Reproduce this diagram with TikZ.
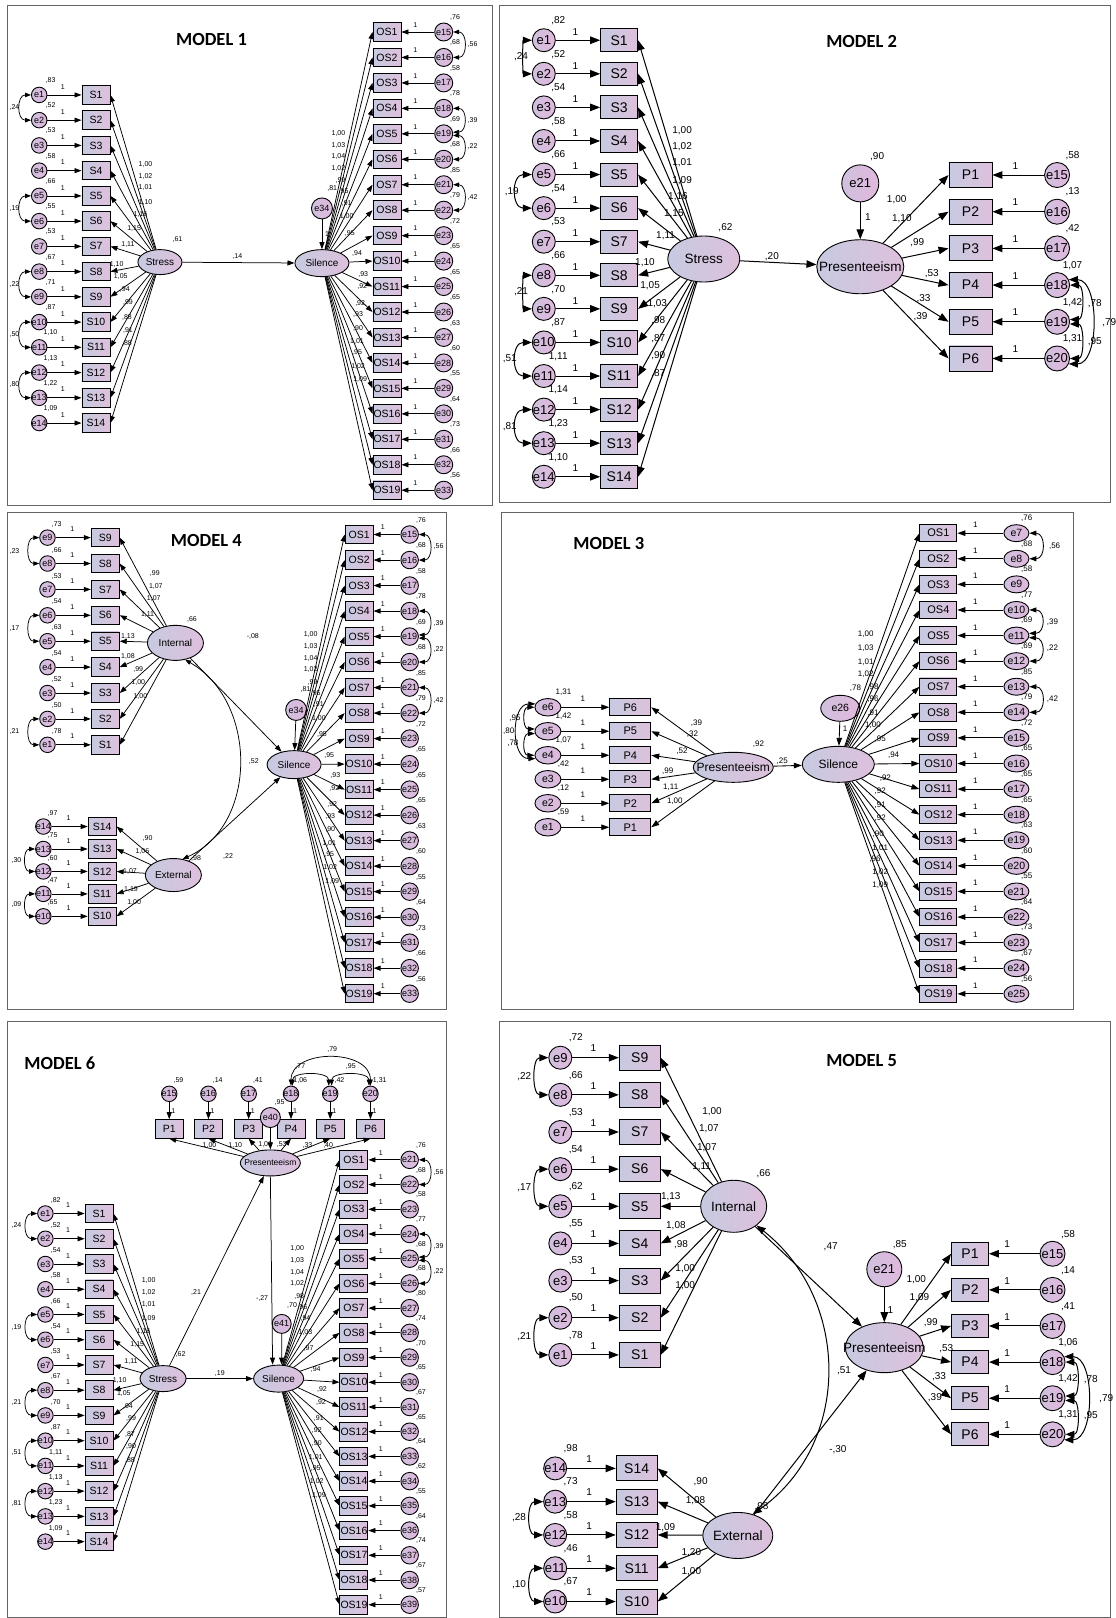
\documentclass[tikz,border=0pt]{standalone}
\usepackage{fontspec}
\setmainfont{Liberation Sans}
\newfontfamily\titlefont{Carlito}
\usetikzlibrary{arrows.meta,shapes.geometric}
\definecolor{fillL}{RGB}{198,202,224}
\definecolor{fillR}{RGB}{222,192,220}
\definecolor{errL}{RGB}{208,192,222}
\definecolor{errR}{RGB}{224,184,220}
\definecolor{frameC}{RGB}{100,100,100}
\newcommand\fs[1]{\fontsize{#1}{#1}\selectfont}
\newcommand\Off[4]{\def\odx{#1}\def\ody{#2}\def\vdx{#3}\def\vdy{#4}}
\newcommand\Col[6]{%
  \foreach \nm/\en/\vv [count=\k from 0] in {#6}{%
    \pgfmathsetmacro\yy{#4+\k*(#5)}%
    \node[cbox] (#1\nm) at (#2,\yy) {\nm};
    \node[cerr] (#1\en) at (#3,\yy) {};
    \node[cerrtxt] at (#1\en) {\en};
    \draw[carr] (#1\en) -- (#1\nm);
    \node[clab] at ({(#2+#3)/2+\odx},{\yy-\ody}) {1};
    \node[clab] at ({#3+\vdx},{\yy-\vdy}) {\vv};
  }}
\newcommand\Lat[5]{\node[base,ellipse,minimum width=#3,minimum height=#4] (#1) at (#2) {};\node[clat] at (#1) {#5};}
\newcommand\CL[3]{\draw[cdarr] (#1) .. controls +(-#3,0) and +(-#3,0) .. (#2);}
\newcommand\CR[3]{\draw[cdarr] (#1) .. controls +(#3,0) and +(#3,0) .. (#2);}
\newcommand\CT[3]{\draw[cdarr] (#1) .. controls +(0,-#3) and +(0,-#3) .. (#2);}
\newcommand\Labs[3]{\foreach \x/\y/\t in {#3}{\node[clab] at ({\x+#1},{\y+#2}) {\t};}}
\tikzset{
 base/.style={draw=black,line width=0.9pt,inner sep=0pt,left color=fillL,right color=fillR},
 ebase/.style={draw=black,line width=0.9pt,inner sep=0pt,left color=errL,right color=errR},
 frame/.style={draw=frameC,line width=1.2pt},
 ttl/.style={font={\titlefont\bfseries\fs{18.5}}},
 smallset/.style={
   cbox/.style={base,rectangle,minimum width=28pt,minimum height=18.5pt,font=\fs{10.5}},
   cerr/.style={ebase,circle,minimum size=15.5pt},
   cerrtxt/.style={font=\fs{9},inner sep=0pt},
   clab/.style={font=\fs{7},inner sep=0pt},
   clat/.style={font=\fs{10},inner sep=0pt},
   carr/.style={line width=0.75pt,-{Triangle[length=7pt,width=5pt]}},
   cdarr/.style={line width=0.75pt,{Triangle[length=6pt,width=4.5pt]}-{Triangle[length=6pt,width=4.5pt]}}},
 largeset/.style={
   cbox/.style={base,rectangle,minimum width=37pt,minimum height=23pt,font=\fs{14}},
   cerr/.style={ebase,circle,minimum size=23pt},
   cerrtxt/.style={font=\fs{13},inner sep=0pt},
   clab/.style={font=\fs{10},inner sep=0pt},
   clat/.style={font=\fs{13.5},inner sep=0pt},
   carr/.style={line width=1pt,-{Triangle[length=10pt,width=7.5pt]}},
   cdarr/.style={line width=1pt,{Triangle[length=9pt,width=7pt]}-{Triangle[length=9pt,width=7pt]}}},
 medset/.style={
   cbox/.style={base,rectangle,minimum width=41pt,minimum height=17pt,font=\fs{11}},
   cerr/.style={ebase,ellipse,minimum width=26pt,minimum height=17.5pt},
   cerrtxt/.style={font=\fs{10.5},inner sep=0pt},
   clab/.style={font=\fs{8},inner sep=0pt},
   clat/.style={font=\fs{12},inner sep=0pt},
   carr/.style={line width=0.85pt,-{Triangle[length=8pt,width=5.5pt]}},
   cdarr/.style={line width=0.85pt,{Triangle[length=7pt,width=5pt]}-{Triangle[length=7pt,width=5pt]}}},
}
\begin{document}
\begin{tikzpicture}[x=1.0315pt,y=-1.0315pt]
\useasboundingbox (0,0) rectangle (1081,1568);
\fill[white] (0,0) rectangle (1081,1568);
\draw[frame] (7,5) rectangle (477,490);
\draw[frame] (484,5) rectangle (1076,487);
\draw[frame] (7,497) rectangle (433,978);
\draw[frame] (486,497) rectangle (1040,978);
\draw[frame] (7,990) rectangle (433,1567.4);
\draw[frame] (484,990) rectangle (1076,1567.4);

% ================= MODEL 1 =================
\tikzset{smallset}
\node[ttl] (t1) at (205,38) {MODEL 1};
\Off{-4.5}{8}{11}{14}
\Col{m1}{93}{38}{92}{24.46}{S1/e1/{,83},S2/e2/{,52},S3/e3/{,53},S4/e4/{,58},S5/e5/{,66},S6/e6/{,55},S7/e7/{,53},S8/e8/{,67},S9/e9/{,71},S10/e10/{,87},S11/e11/{1,10},S12/e12/{1,13},S13/e13/{1,22},S14/e14/{1,09}}
\CL{m1e1.west}{m1e2.west}{14}\CL{m1e5.west}{m1e6.west}{14}\CL{m1e8.west}{m1e9.west}{14}\CL{m1e10.west}{m1e11.west}{14}\CL{m1e12.west}{m1e13.west}{14}
\Labs{0}{0}{14/104/{,24},14/202/{,19},14/276/{,22},14/324/{,50},14/373/{,80}}
\Lat{m1Stress}{155,254}{44pt}{25pt}{Stress}
\foreach \i in {1,...,14} \draw[carr] (m1Stress) -- (m1S\i.east);
\Labs{0}{0}{141/159/{1,00},141/171/{1,02},141/182/{1,01},141/196/{1,10},136/208/{1,16},130/221/{1,15},124/237/{1,11},113/256/{1,10},117/268/{1,05},121/281/{,94},124/293/{,99},123/308/{,88},124/320/{,91},123/333/{,88}}
\Lat{m1Sil}{312,255}{54pt}{27pt}{Silence}
\draw[carr] (m1Stress) -- (m1Sil);
\node[cerr,minimum size=21pt] (m1e34) at (312,202) {};\node[cerrtxt] at (m1e34) {e34};
\draw[carr] (m1e34) -- (m1Sil);
\Labs{0}{0}{172/232/{,61},230/249/{,14},322/183/{,81},317/227/{1}}
\tikzset{cerr/.style={ebase,circle,minimum size=18pt}}
\Off{0}{7}{11}{14}
\Col{m1}{375}{430}{31}{24.67}{OS1/e15/{,76},OS2/e16/{,68},OS3/e17/{,58},OS4/e18/{,78},OS5/e19/{,69},OS6/e20/{,68},OS7/e21/{,85},OS8/e22/{,79},OS9/e23/{,72},OS10/e24/{,65},OS11/e25/{,65},OS12/e26/{,65},OS13/e27/{,63},OS14/e28/{,60},OS15/e29/{,55},OS16/e30/{,64},OS17/e31/{,73},OS18/e32/{,66},OS19/e33/{,56}}
\foreach \i in {1,...,19} \draw[carr] (m1Sil) -- (m1OS\i.west);
\CR{m1e15.east}{m1e16.east}{14}\CR{m1e18.east}{m1e19.10}{14}\CR{m1e19.-10}{m1e20.east}{14}\CR{m1e21.east}{m1e22.east}{14}
\Labs{0}{0}{458/43/{,56},458/117/{,39},458/142/{,22},458/191/{,42}}
\Labs{0}{0}{328/129/{1,00},328/141/{1,03},328/152/{1,04},328/163/{1,02},330/175/{,99},333/186/{,95},336/197/{,91},336/210/{1,00},339/226/{,95},346/246/{,94},352/266/{,93},351/278/{,92},349/294/{,92},347/305/{,93},347/318/{,90},346/331/{1,01},346/342/{,95},347/355/{1,02},349/368/{1,09}}

% ================= MODEL 2 =================
\tikzset{largeset}
\node[ttl] (t2) at (835,40) {MODEL 2};
\Off{-6}{8}{14}{19}
\Col{m2}{600}{527}{39}{32.54}{S1/e1/{,82},S2/e2/{,52},S3/e3/{,54},S4/e4/{,58},S5/e5/{,66},S6/e6/{,54},S7/e7/{,53},S8/e8/{,66},S9/e9/{,70},S10/e10/{,87},S11/e11/{1,11},S12/e12/{1,14},S13/e13/{1,23},S14/e14/{1,10}}
\CL{m2e1.west}{m2e2.west}{9}\CL{m2e5.west}{m2e6.west}{20}\CL{m2e8.west}{m2e9.west}{9}\CL{m2e10.west}{m2e11.west}{20}\CL{m2e12.west}{m2e13.west}{20}
\Labs{0}{0}{505/55/{,24},496/186/{,19},505/283/{,21},494/348/{,51},494/413/{,81}}
\Lat{m2Stress}{682,251}{72pt}{46pt}{Stress}
\foreach \i in {1,...,14} \draw[carr] (m2Stress) -- (m2S\i.east);
\Labs{0}{0}{661/127/{1,00},661/142/{1,02},661/158/{1,01},661/175/{1,09},657/191/{1,16},653/207/{1,15},645/228/{1,11},625/255/{1,10},630/277/{1,05},637/294/{1,03},638/311/{,98},638/328/{,87},638/345/{,90},638/362/{,87}}
\Lat{m2Pres}{833.7,258.5}{87pt}{54pt}{Presenteeism}
\node[cerr,minimum size=37pt] (m2e21) at (833.7,177.7) {};\node[cerrtxt] at (m2e21) {e21};
\draw[carr] (m2e21) -- (m2Pres);
\draw[carr] (m2Stress) -- (m2Pres);
\Labs{0}{0}{703/221/{,62},748/249/{,20},850/152/{,90},841/210/{1}}
\tikzset{cbox/.style={base,rectangle,minimum width=43pt,minimum height=25pt,font=\fs{14}},cerr/.style={ebase,circle,minimum size=25pt}}
\Off{1.5}{9}{15}{19}
\Col{m2}{940.5}{1024.4}{169.6}{35.56}{P1/e15/{,58},P2/e16/{,13},P3/e17/{,42},P4/e18/{1,07},P5/e19/{1,42},P6/e20/{1,31}}
\foreach \i in {1,...,6} \draw[carr] (m2Pres) -- (m2P\i.west);
\CR{m2e18.east}{m2e19.10}{14}\CR{m2e19.-10}{m2e20.east}{14}\CR{m2e18.25}{m2e20.-25}{30}
\Labs{0}{0}{1061/294/{,78},1075/313/{,79},1061/331/{,95}}
\Labs{0}{0}{869/193/{1,00},874/212/{1,10},889/235/{,99},903/265/{,53},895/289/{,33},892/307/{,39}}

% ================= MODEL 4 =================
\tikzset{smallset}
\node[ttl] (t4) at (200,524) {MODEL 4};
\Off{-4}{8}{9}{13}
\Col{m4}{102}{46}{521}{25.1}{S9/e9/{,73},S8/e8/{,66},S7/e7/{,53},S6/e6/{,54},S5/e5/{,63},S4/e4/{,54},S3/e3/{,52},S2/e2/{,50},S1/e1/{,78}}
\CL{m4e9.west}{m4e8.west}{13}\CL{m4e6.west}{m4e5.west}{13}\CL{m4e2.west}{m4e1.west}{13}
\Col{m4}{99}{42}{801}{21.75}{S14/e14/{,97},S13/e13/{,75},S12/e12/{,60},S11/e11/{,47},S10/e10/{,65}}
\CL{m4e13.west}{m4e12.west}{12}\CL{m4e11.west}{m4e10.west}{12}
\Labs{0}{0}{14/534/{,23},14/609/{,17},14/709/{,21},16/834/{,30},16/877/{,09}}
\Lat{m4Int}{170,623}{56pt}{35pt}{Internal}
\Lat{m4Ext}{168,848}{56pt}{33pt}{External}
\foreach \i in {1,...,9} \draw[carr] (m4Int) -- (m4S\i.east);
\foreach \i in {10,...,14} \draw[carr] (m4Ext) -- (m4S\i.east);
\Labs{0}{0}{150/556/{,99},151/568/{1,07},149/580/{1,07},143/596/{1,11},124/617/{1,13},124/636/{1,08},134/649/{,99},134/661/{1,00},136/675/{1,00}}
\Labs{0}{0}{143/813/{,90},138/825/{1,06},126/845/{1,07},127/862/{1,19},130/875/{1,00}}
\Lat{m4Sil}{285,741}{54pt}{28pt}{Silence}
\node[cerr,minimum size=21pt] (m4e34) at (287,688) {};\node[cerrtxt] at (m4e34) {e34};
\draw[carr] (m4e34) -- (m4Sil);
\draw[carr] (m4Int) -- (m4Sil);
\draw[carr] (m4Ext) -- (m4Sil);
\draw[cdarr] (m4Int.-60) .. controls (250,680) and (250,800) .. (m4Ext.60);
\Labs{0}{0}{186/600/{,66},190/832/{,98},246/738/{,52},245/617/{-,08},221/830/{,22},296/668/{,81}}
\tikzset{cerr/.style={ebase,circle,minimum size=17.5pt}}
\Off{-1.5}{7}{11}{14}
\Col{m4}{348}{397}{518}{24.72}{OS1/e15/{,76},OS2/e16/{,68},OS3/e17/{,58},OS4/e18/{,78},OS5/e19/{,69},OS6/e20/{,68},OS7/e21/{,85},OS8/e22/{,79},OS9/e23/{,72},OS10/e24/{,65},OS11/e25/{,65},OS12/e26/{,65},OS13/e27/{,63},OS14/e28/{,60},OS15/e29/{,55},OS16/e30/{,64},OS17/e31/{,73},OS18/e32/{,66},OS19/e33/{,56}}
\foreach \i in {1,...,19} \draw[carr] (m4Sil) -- (m4OS\i.west);
\CR{m4e15.east}{m4e16.east}{14}\CR{m4e18.east}{m4e19.10}{14}\CR{m4e19.-10}{m4e20.east}{14}\CR{m4e21.east}{m4e22.east}{14}
\Labs{0}{0}{425/530/{,56},425/604/{,39},425/629/{,22},425/679/{,42}}
\Labs{-27}{486}{328/129/{1,00},328/141/{1,03},328/152/{1,04},328/163/{1,02},330/175/{,99},333/186/{,95},336/197/{,91},336/210/{1,00},339/226/{,95},346/246/{,95},352/266/{,93},351/278/{,92},349/294/{,92},347/305/{,93},347/318/{,90},346/331/{1,01},346/342/{,95},347/355/{1,02},349/368/{1,09}}

% ================= MODEL 3 =================
\tikzset{medset}
\node[ttl] (t3) at (590,527) {MODEL 3};
\Off{-6}{8}{15}{14.5}
\Col{m3}{610.8}{531}{685.4}{23.26}{P6/e6/{1,31},P5/e5/{1,42},P4/e4/{1,07},P3/e3/{,42},P2/e2/{,12},P1/e1/{,59}}
\CL{m3e6.west}{m3e5.170}{12}\CL{m3e5.190}{m3e4.west}{12}\CL{m3e6.165}{m3e4.195}{24}
\Labs{0}{0}{499/696/{,95},493/709/{,80},497/720/{,78}}
\Lat{m3Pres}{710.6,743.6}{80pt}{30pt}{Presenteeism}
\foreach \i in {1,...,6} \draw[carr] (m3Pres) -- (m3P\i.east);
\Labs{0}{0}{675/701/{,39},671/712/{,32},661/728/{,52},647/747/{,99},650/763/{1,11},654/776/{1,00}}
\Lat{m3Sil}{812.4,740.7}{72pt}{36pt}{Silence}
\draw[carr] (m3Pres) -- (m3Sil);
\node[cerr,minimum width=39pt,minimum height=26pt] (m3e26) at (814.3,686.4) {};\node[cerrtxt] at (m3e26) {e26};
\draw[carr] (m3e26) -- (m3Sil);
\Labs{0}{0}{735/721/{,92},758/738/{,25},829/667/{,78},819/706/{1}}
\tikzset{cbox/.style={base,rectangle,minimum width=37pt,minimum height=17.5pt,font=\fs{11}},cerr/.style={ebase,ellipse,minimum width=25pt,minimum height=17pt}}
\Off{-2}{8}{10}{14.5}
\Col{m3}{909.4}{985}{516.7}{24.8}{OS1/e7/{,76},OS2/e8/{,68},OS3/e9/{,58},OS4/e10/{,77},OS5/e11/{,69},OS6/e12/{,69},OS7/e13/{,85},OS8/e14/{,79},OS9/e15/{,72},OS10/e16/{,65},OS11/e17/{,65},OS12/e18/{,65},OS13/e19/{,63},OS14/e20/{,60},OS15/e21/{,55},OS16/e22/{,64},OS17/e23/{,73},OS18/e24/{,67},OS19/e25/{,56}}
\foreach \i in {1,...,19} \draw[carr] (m3Sil) -- (m3OS\i.west);
\CR{m3e7.east}{m3e8.east}{16}\CR{m3e10.east}{m3e11.10}{16}\CR{m3e11.-10}{m3e12.east}{16}\CR{m3e13.east}{m3e14.east}{16}
\Labs{0}{0}{1022/529/{,56},1020/603/{,39},1020/628/{,22},1020/678/{,42}}
\Labs{0}{0}{839/615/{1,00},839/628/{1,03},839/642/{1,01},839/653/{1,02},846/666/{,98},846/678/{,96},846/691/{,91},846/703/{1,00},853/716/{,95},866/732/{,94},858/754/{,92},853/767/{,92},853/780/{,91},853/793/{,92},851/808/{,90},853/822/{1,01},848/833/{,96},853/845/{1,02},853/858/{1,09}}

% ================= MODEL 5 =================
\tikzset{largeset}
\tikzset{cbox/.style={base,rectangle,minimum width=41pt,minimum height=25pt,font=\fs{14}}}
\node[ttl] (t5) at (835,1028) {MODEL 5};
\Off{-6.5}{9}{15}{19}
\Col{m5}{620}{543}{1025}{36}{S9/e9/{,72},S8/e8/{,66},S7/e7/{,53},S6/e6/{,54},S5/e5/{,62},S4/e4/{,55},S3/e3/{,53},S2/e2/{,50},S1/e1/{,78}}
\CL{m5e9.west}{m5e8.west}{16}\CL{m5e6.west}{m5e5.west}{16}\CL{m5e2.west}{m5e1.west}{16}
\Col{m5}{617}{538}{1423}{32.25}{S14/e14/{,98},S13/e13/{,73},S12/e12/{,58},S11/e11/{,46},S10/e10/{,67}}
\CL{m5e13.west}{m5e12.west}{16}\CL{m5e11.west}{m5e10.west}{16}
\Labs{0}{0}{508/1043/{,22},508/1151/{,17},508/1295/{,21},503/1471/{,28},503/1536/{,10}}
\Lat{m5Int}{711,1169}{66pt}{52pt}{Internal}
\Lat{m5Ext}{715,1488}{70pt}{46pt}{External}
\foreach \i in {1,...,9} \draw[carr] (m5Int) -- (m5S\i.east);
\foreach \i in {10,...,14} \draw[carr] (m5Ext) -- (m5S\i.east);
\Labs{0}{0}{690/1077/{1,00},687/1094/{1,07},685/1112/{1,07},680/1131/{1,11},650/1160/{1,13},655/1188/{1,08},660/1206/{,98},664/1229/{1,00},664/1246/{1,00}}
\Labs{0}{0}{679/1436/{,90},674/1454/{1,08},645/1480/{1,09},670/1505/{1,20},670/1523/{1,00}}
\Lat{m5Pres}{857,1306}{78pt}{50pt}{Presenteeism}
\node[cerr,minimum size=35pt] (m5e21) at (857,1230) {};\node[cerrtxt] at (m5e21) {e21};
\draw[carr] (m5e21) -- (m5Pres);
\draw[carr] (m5Int) -- (m5Pres);
\draw[carr] (m5Ext) -- (m5Pres);
\draw[cdarr] (m5Int.-40) .. controls (825,1260) and (825,1400) .. (m5Ext.55);
\Labs{0}{0}{740/1137/{,66},872/1206/{,85},863/1270/{1},805/1208/{,47},818/1328/{,51},812/1405/{-,30},738/1460/{,98}}
\tikzset{cbox/.style={base,rectangle,minimum width=37pt,minimum height=23pt,font=\fs{14}},cerr/.style={ebase,circle,minimum size=25pt}}
\Off{-4}{9}{15}{19}
\Col{m5}{940}{1020}{1215}{35}{P1/e15/{,58},P2/e16/{,14},P3/e17/{,41},P4/e18/{1,06},P5/e19/{1,42},P6/e20/{1,31}}
\foreach \i in {1,...,6} \draw[carr] (m5Pres) -- (m5P\i.west);
\CR{m5e18.east}{m5e19.10}{14}\CR{m5e19.-10}{m5e20.east}{14}\CR{m5e18.25}{m5e20.-25}{30}
\Labs{0}{0}{1057/1337/{,78},1072/1355/{,79},1057/1372/{,95}}
\Labs{0}{0}{888/1240/{1,00},891/1258/{1,09},902/1282/{,99},917/1307/{,53},910/1334/{,33},906/1354/{,39}}

% ================= MODEL 6 =================
\tikzset{smallset}
\node[ttl] (t6) at (58,1030) {MODEL 6};
\foreach \i/\x/\v [count=\k] in {15/164/{,59},16/202/{,14},17/241/{,41},18/282/{1,06},19/320/{,42},20/359/{1,31}}{
  \node[cbox] (m6P\k) at (\x,1094) {P\k};
  \node[cerr] (m6e\i) at (\x,1060) {};\node[cerrtxt] at (m6e\i) {e\i};
  \draw[carr] (m6e\i) -- (m6P\k);
  \node[clab] at (\x+4,1077) {1};
  \node[clab] at (\x+9,1047) {\v};
}
\CT{m6e18.80}{m6e19.100}{14}\CT{m6e19.80}{m6e20.100}{14}\CT{m6e18.north}{m6e20.north}{36}
\Labs{0}{0}{291/1034/{,77},340/1034/{,95},322/1017/{,79}}
\node[cerr,minimum size=20pt] (m6e40) at (262,1083) {};\node[cerrtxt] at (m6e40) {e40};
\Lat{m6Pres}{262,1127}{60pt}{26pt}{\fs{8.5}Presenteeism}
\draw[carr] (m6e40) -- (m6Pres);
\foreach \k in {1,...,6} \draw[carr] (m6Pres) -- (m6P\k.south);
\Labs{0}{0}{203/1110/{1,00},228/1110/{1,10},257/1109/{1,00},273/1109/{,53},298/1110/{,33},318/1110/{,40},271/1068/{,95}}
\Off{-4}{8}{10}{13}
\Col{m6}{96}{44}{1176}{24.46}{S1/e1/{,82},S2/e2/{,52},S3/e3/{,54},S4/e4/{,58},S5/e5/{,66},S6/e6/{,54},S7/e7/{,53},S8/e8/{,67},S9/e9/{,70},S10/e10/{,87},S11/e11/{1,11},S12/e12/{1,13},S13/e13/{1,23},S14/e14/{1,09}}
\CL{m6e1.west}{m6e2.west}{14}\CL{m6e5.west}{m6e6.west}{14}\CL{m6e8.west}{m6e9.west}{14}\CL{m6e10.west}{m6e11.west}{14}\CL{m6e12.west}{m6e13.west}{14}
\Labs{0}{0}{16/1188/{,24},16/1286/{,19},16/1359/{,21},16/1408/{,51},16/1457/{,81}}
\Lat{m6Stress}{158,1336}{46pt}{26pt}{Stress}
\foreach \i in {1,...,14} \draw[carr] (m6Stress) -- (m6S\i.east);
\Labs{3}{1082}{141/159/{1,00},141/171/{1,02},141/182/{1,01},141/196/{1,09},136/208/{1,16},130/221/{1,15},124/237/{1,11},113/256/{1,10},117/268/{1,05},121/281/{,94},124/293/{,99},123/308/{,87},124/320/{,90},123/333/{,88}}
\Lat{m6Sil}{270,1336}{50pt}{27pt}{Silence}
\node[cerr,minimum size=19pt] (m6e41) at (273,1283) {};\node[cerrtxt] at (m6e41) {e41};
\draw[carr] (m6e41) -- ([xshift=3pt]m6Sil.north);
\draw[carr] (m6Pres.south) -- ([xshift=-6pt]m6Sil.north);
\draw[carr] (m6Stress) -- (m6Pres);
\draw[carr] (m6Stress) -- (m6Sil);
\Labs{0}{0}{175/1313/{,62},190/1253/{,21},213/1331/{,19},254/1258/{-,27},283/1265/{,70},279/1307/{1}}
\tikzset{cerr/.style={ebase,circle,minimum size=17.5pt}}
\Off{-1}{7}{11}{14}
\Col{m6}{343}{397}{1124}{23.95}{OS1/e21/{,76},OS2/e22/{,68},OS3/e23/{,58},OS4/e24/{,77},OS5/e25/{,68},OS6/e26/{,68},OS7/e27/{,80},OS8/e28/{,74},OS9/e29/{,70},OS10/e30/{,65},OS11/e31/{,67},OS12/e32/{,65},OS13/e33/{,64},OS14/e34/{,62},OS15/e35/{,55},OS16/e36/{,64},OS17/e37/{,74},OS18/e38/{,67},OS19/e39/{,57}}
\foreach \i in {1,...,19} \draw[carr] (m6Sil) -- (m6OS\i.west);
\CR{m6e21.east}{m6e22.east}{14}\CR{m6e24.east}{m6e25.10}{14}\CR{m6e25.-10}{m6e26.east}{14}
\Labs{0}{0}{425/1136/{,56},425/1208/{,39},425/1232/{,22}}
\Labs{-40}{1081}{328/129/{1,00},328/141/{1,03},328/152/{1,04},328/163/{1,02},330/175/{,98},333/186/{,96},336/197/{,94},336/210/{1,03},339/226/{,97},346/246/{,94},352/266/{,92},351/278/{,92},349/294/{,91},347/305/{,92},347/318/{,90},346/331/{1,01},346/342/{,95},347/355/{1,02},349/368/{1,09}}
\end{tikzpicture}
\end{document}
